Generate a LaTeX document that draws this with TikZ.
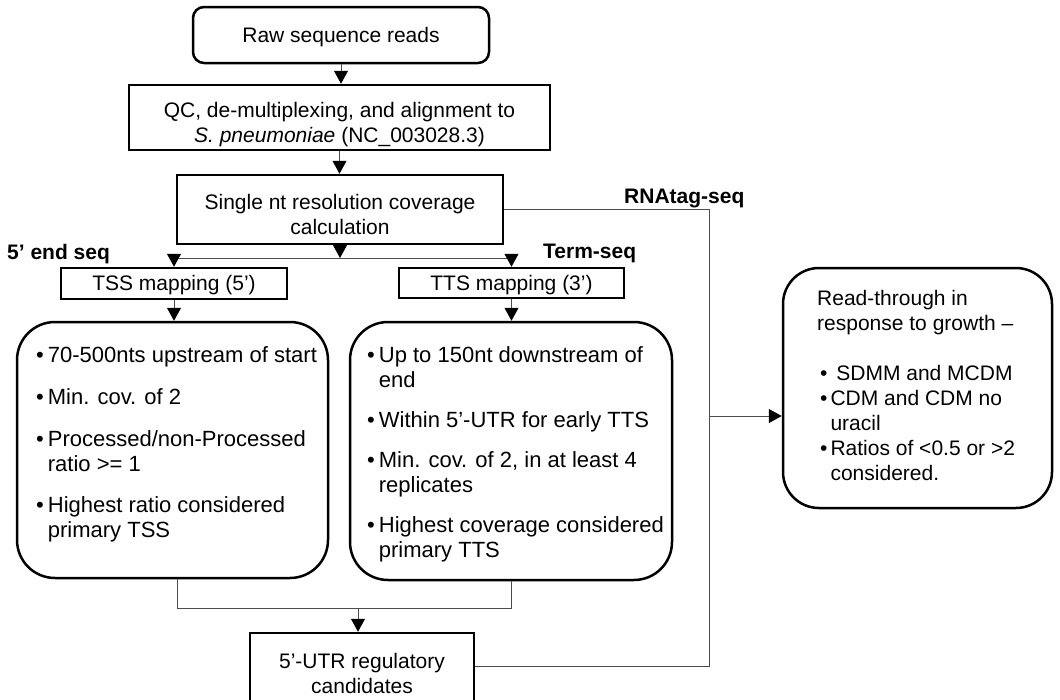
\documentclass[tikz,border=0pt]{standalone}
\usepackage{fontspec}
\setmainfont{Liberation Sans}
\usetikzlibrary{arrows.meta}
\newcommand{\lowered}[2]{\raisebox{-#1}[\height][\depth]{\begin{tabular}{@{}c@{}}#2\end{tabular}}}
\begin{document}
\begin{tikzpicture}[x=1pt,y=-1pt,
  font=\fontsize{21}{25}\selectfont,
  sq/.style={draw, line width=2.5pt, inner sep=0pt, align=center},
  rbox/.style={draw, line width=2.5pt, rounded corners=11pt, inner sep=0pt, align=center},
  crit/.style={draw, line width=2.5pt, rounded corners=38pt, inner sep=0pt},
  conn/.style={draw=black!70, line width=1pt},
  arr/.style={conn, -{Triangle[width=14pt,length=13pt,fill=black,color=black]}},
  lbl/.style={font=\fontsize{21}{25}\selectfont\bfseries, inner sep=0pt},
  txt/.style={inner sep=0pt, anchor=base west},
  crittxt/.style={txt, font=\fontsize{22}{25}\selectfont},
]
\useasboundingbox (0,0) rectangle (1060,699);
\clip (0,0) rectangle (1060,699);

% boxes
\node[rbox, minimum width=296pt, minimum height=56pt] (raw) at (341,35) {\lowered{2pt}{Raw sequence reads}};
\node[sq, minimum width=421pt, minimum height=65pt] (qc) at (339.5,117.5)
  {\lowered{7pt}{QC, de-multiplexing, and alignment to\\ \textit{S. pneumoniae} (NC\_003028.3)}};
\node[sq, minimum width=326pt, minimum height=69pt] (single) at (340,209.5)
  {\lowered{7pt}{Single nt resolution coverage\\ calculation}};
\node[sq, minimum width=226pt, minimum height=31pt] (tss) at (174,283.5) {\lowered{2pt}{TSS mapping (5’)}};
\node[sq, minimum width=225pt, minimum height=30pt] (tts) at (511.5,283) {\lowered{2pt}{TTS mapping (3’)}};
\node[crit, minimum width=311pt, minimum height=256pt] (lcrit) at (172.5,450) {};
\node[crit, minimum width=322pt, minimum height=258pt] (rcrit) at (511,451) {};
\node[crit, rounded corners=36pt, minimum width=269pt, minimum height=240pt] (read) at (917.5,388) {};
\node[sq, minimum width=224pt, minimum height=80pt] (utr) at (362,673)
  {5’-UTR regulatory\\ candidates};

% box texts
\node[crittxt] (ltext) at (36,362) {\begin{tabular}[t]{@{}l@{\hspace{4pt}}l@{}}
\textbullet & 70-500nts upstream of start\\[17pt]
\textbullet & Min. cov. of 2\\[17pt]
\textbullet & Processed/non-Processed\\
 & ratio >= 1\\[16pt]
\textbullet & Highest ratio considered\\
 & primary TSS
\end{tabular}};
\node[crittxt] (rtext) at (367,362) {\begin{tabular}[t]{@{}l@{\hspace{4pt}}l@{}}
\textbullet & Up to 150nt downstream of\\
 & end\\[15pt]
\textbullet & Within 5’-UTR for early TTS\\[15pt]
\textbullet & Min. cov. of 2, in at least 4\\
 & replicates\\[15pt]
\textbullet & Highest coverage considered\\
 & primary TTS
\end{tabular}};
\node[txt] (readtext) at (817,305) {\begin{tabular}[t]{@{}l@{\hspace{3pt}}l@{}}
\multicolumn{2}{@{}l@{}}{Read-through in}\\
\multicolumn{2}{@{}l@{}}{response to growth –}\\
 & \\
\hspace{3pt}\textbullet & \ SDMM and MCDM\\
\hspace{3pt}\textbullet & CDM and CDM no\\
 & uracil\\
\hspace{3pt}\textbullet & Ratios of <0.5 or >2\\
 & considered.
\end{tabular}};

% labels
\node[lbl, anchor=west] (l5) at (7,254) {5’ end seq};
\node[lbl, anchor=west] (lterm) at (543,253) {Term-seq};
\node[lbl, anchor=west] (lrna) at (624,198) {RNAtag-seq};

% coordinates
\coordinate (split) at (340,258);
\coordinate (sl) at (174,258);
\coordinate (sr) at (511.5,258);
\coordinate (ml) at (177,608);
\coordinate (mr) at (511,608);
\coordinate (mj) at (358,608);
\coordinate (rt) at (709,209);
\coordinate (rb) at (709,666);
\coordinate (rm) at (709,416);

% connectors
\draw[arr] (raw.south) -- (raw.south |- qc.north);
\draw[arr] (qc.south) -- (qc.south |- single.north);
\draw[conn] (sl) -- (sr);
\draw[arr] (single.south) -- (split);
\draw[arr] (sl) -- (tss.north);
\draw[arr] (sr) -- (sr |- tts.north);
\draw[arr] (tss.south) -- (tss.south |- lcrit.north);
\draw[arr] (tts.south) -- (tts.south |- rcrit.north);
\draw[conn] (ml |- lcrit.south) -- (ml) -- (mr) -- (mr |- rcrit.south);
\draw[arr] (mj) -- (mj |- utr.north);
\draw[conn] (single.east |- rt) -- (rt) -- (rb) -- (rb -| utr.east);
\draw[arr] (rm) -- (rm -| read.west);
\end{tikzpicture}
\end{document}
